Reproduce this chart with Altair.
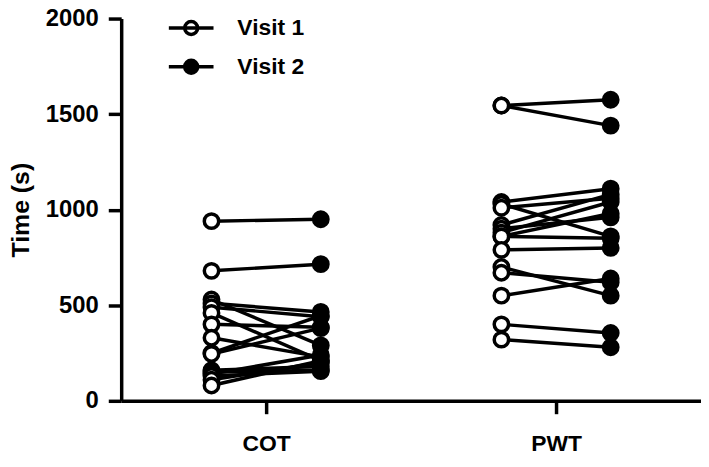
import altair as alt
import pandas as pd

groups = ["COT", "PWT"]
visits = ["Visit 1", "Visit 2"]
cot_v1 = [940, 680, 530, 510, 490, 460, 400, 330, 250, 245, 160, 150, 140, 130, 110, 80]
cot_v2 = [950, 715, 290, 465, 440, 210, 385, 230, 445, 380, 180, 160, 240, 155, 200, 210]
pwt_v1 = [1545, 1545, 1040, 1030, 1010, 920, 900, 880, 860, 860, 790, 700, 670, 550, 400, 320]
pwt_v2 = [1575, 1440, 1110, 860, 1060, 1080, 960, 1040, 850, 980, 800, 550, 620, 640, 355, 280]

series = {("COT", "Visit 1"): cot_v1, ("COT", "Visit 2"): cot_v2,
          ("PWT", "Visit 1"): pwt_v1, ("PWT", "Visit 2"): pwt_v2}
OFF = 0.377
rows = []
for (g, v), vals in series.items():
    gi = groups.index(g)
    xi = gi * 2 + 1 + (-OFF if v == "Visit 1" else OFF)
    for i, val in enumerate(vals):
        rows.append({"group": g, "visit": v, "subject": f"{g}{i}", "time": val, "xpos": xi})
df = pd.DataFrame(rows)

FONT = "Liberation Sans"
x = alt.X("xpos:Q", scale=alt.Scale(domain=[0, 4], nice=False, zero=False),
          axis=alt.Axis(values=[1, 3], labelExpr="datum.value == 1 ? 'COT' : 'PWT'",
                        title=None, tickSize=13, tickWidth=3.5, domainWidth=3.5,
                        labelFontSize=23, labelFontWeight="bold", labelPadding=19,
                        labelFont=FONT, grid=False, domainColor="black", tickColor="black",
                        labelColor="black"))
y = alt.Y("time:Q", scale=alt.Scale(domain=[0, 2000], nice=False),
          axis=alt.Axis(values=[0, 500, 1000, 1500, 2000], format="d", title="Time (s)",
                        tickSize=13, tickWidth=3.5, domainWidth=3.5,
                        labelFontSize=24, labelFontWeight="bold", labelPadding=10,
                        labelFont=FONT, titleFont=FONT, titleFontSize=25,
                        titleFontWeight="bold", titlePadding=12, grid=False,
                        domainColor="black", tickColor="black", labelColor="black",
                        titleColor="black"))

lines = alt.Chart(df).mark_line(color="black", strokeWidth=3.5).encode(
    x=x, y=y, detail="subject:N")

legend_path = ("M-1,0L1,0M-0.29,0A0.29,0.29 0 1,0 0.29,0"
               "A0.29,0.29 0 1,0 -0.29,0Z")
points = alt.Chart(df).mark_point(filled=False, size=210, stroke="black",
                                  strokeWidth=3.5, opacity=1, shape="circle").encode(
    x=x, y=y,
    fill=alt.Fill("visit:N", scale=alt.Scale(domain=visits, range=["white", "black"]),
                  legend=alt.Legend(title=None, orient="none", legendX=46, legendY=-15,
                                    symbolType=legend_path, symbolSize=2025,
                                    symbolStrokeColor="black", symbolStrokeWidth=3.5,
                                    symbolOpacity=1, labelFontSize=23,
                                    labelFontWeight="bold", labelFont=FONT,
                                    labelColor="black", rowPadding=-10, labelOffset=22,
                                    padding=0)),
)

chart = alt.layer(lines, points).properties(
    width=584, height=385,
    autosize=alt.AutoSizeParams(type="none"),
    padding={"left": 114, "top": 9, "right": 0, "bottom": 60},
).configure_view(stroke=None)

chart.save("out.html", embed_options={"renderer": "svg", "actions": False})
